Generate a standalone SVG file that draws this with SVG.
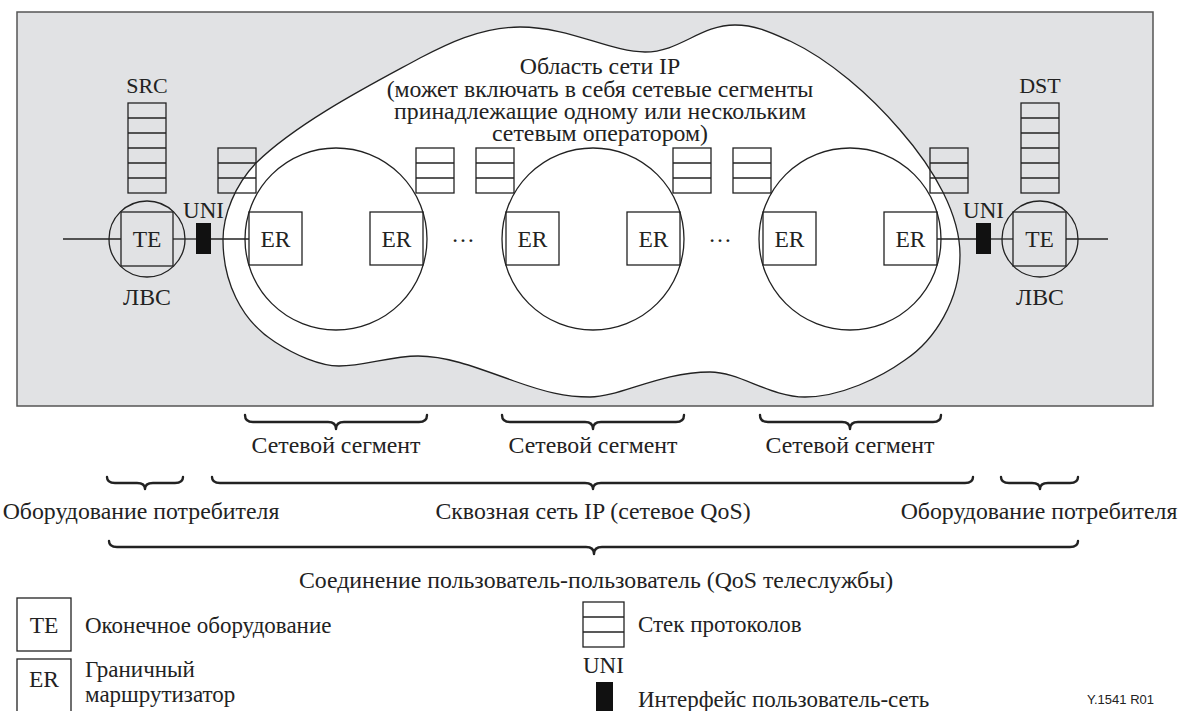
<svg xmlns="http://www.w3.org/2000/svg" xmlns:xlink="http://www.w3.org/1999/xlink" width="1179" height="711" viewBox="0 0 1179 711">
<style>
  .t{font-family:"Liberation Serif","Times New Roman",serif;font-size:23.8px;fill:#222}
  .lat{font-size:22px}
  .box{font-size:23.5px}
  .lg{font-size:23px}
  .m{text-anchor:middle}
  .ln{fill:none;stroke:#222;stroke-width:1.3}
  .br{fill:none;stroke:#222;stroke-width:2.4;stroke-linejoin:round;stroke-linecap:round}
  .uni{fill:#111}
</style>
<defs>
  <g id="stack3" class="ln"><rect x="0" y="0" width="38" height="45"/><line x1="0" y1="15" x2="38" y2="15"/><line x1="0" y1="30" x2="38" y2="30"/></g>
  <g id="stack6" class="ln"><rect x="0" y="0" width="38" height="90"/><line x1="0" y1="15" x2="38" y2="15"/><line x1="0" y1="30" x2="38" y2="30"/><line x1="0" y1="45" x2="38" y2="45"/><line x1="0" y1="60" x2="38" y2="60"/><line x1="0" y1="75" x2="38" y2="75"/></g>
</defs>
<rect id="background" x="17" y="12" width="1136" height="394" fill="#e1e2e4" stroke="#555" stroke-width="1.5"/>
<g id="ip-domain">
  <path d="M223,240 C223,215 235,185 256,163 C300,120 380,80 420,58 C445,45 480,27 520,27 C570,27 610,52 645,52 C680,52 700,25 735,25 C755,25 770,32 790,41 C830,60 870,95 900,130 C935,170 960,215 960,255 C960,300 935,340 905,360 C880,378 840,397 805,397 C770,397 740,372 710,372 C660,372 620,397 590,397 C565,397 545,392 514,381 C470,365 445,356 418,356 C390,356 365,366 339,366 C320,366 295,355 275,342 C240,320 223,280 223,240 Z" fill="#fff" stroke="#222" stroke-width="1.3"/>
  <text class="t m" x="600" y="74">Область сети IP<tspan x="600" y="97">(может включать в себя сетевые сегменты</tspan><tspan x="600" y="119">принадлежащие одному или нескольким</tspan><tspan x="600" y="141">сетевым оператором)</tspan></text>
</g>
<g id="connectors" class="ln">
  <line x1="63" y1="239" x2="121" y2="239"/>
  <line x1="173" y1="239" x2="196" y2="239"/>
  <line x1="211" y1="239" x2="249" y2="239"/>
  <line x1="937" y1="239" x2="976" y2="239"/>
  <line x1="991" y1="239" x2="1013" y2="239"/>
  <line x1="1066" y1="239" x2="1108" y2="239"/>
</g>
<g id="segment1">
  <circle class="ln" cx="336" cy="239" r="91"/>
  <rect class="ln" x="249" y="212" width="53" height="53"/>
  <text class="t box m" x="275.5" y="247">ER</text>
  <rect class="ln" x="370" y="212" width="53" height="53"/>
  <text class="t box m" x="396.5" y="247">ER</text>
</g>
<g id="segment2">
  <circle class="ln" cx="593" cy="239" r="91"/>
  <rect class="ln" x="506" y="212" width="53" height="53"/>
  <text class="t box m" x="532.5" y="247">ER</text>
  <rect class="ln" x="627" y="212" width="53" height="53"/>
  <text class="t box m" x="653.5" y="247">ER</text>
</g>
<g id="segment3">
  <circle class="ln" cx="850" cy="239" r="91"/>
  <rect class="ln" x="763" y="212" width="53" height="53"/>
  <text class="t box m" x="789.5" y="247">ER</text>
  <rect class="ln" x="884" y="212" width="53" height="53"/>
  <text class="t box m" x="910.5" y="247">ER</text>
</g>
<g id="dots">
  <text class="t box m" x="463" y="242">…</text>
  <text class="t box m" x="720" y="242">…</text>
</g>
<g id="stacks">
  <use xlink:href="#stack3" href="#stack3" x="218" y="148"/>
  <use xlink:href="#stack3" href="#stack3" x="416" y="148"/>
  <use xlink:href="#stack3" href="#stack3" x="476" y="148"/>
  <use xlink:href="#stack3" href="#stack3" x="673" y="148"/>
  <use xlink:href="#stack3" href="#stack3" x="733" y="148"/>
  <use xlink:href="#stack3" href="#stack3" x="930" y="148"/>
</g>
<g id="src">
  <text class="t lat m" x="147" y="93">SRC</text>
  <use xlink:href="#stack6" href="#stack6" x="128" y="103"/>
  <circle class="ln" cx="147" cy="239" r="38"/>
  <rect class="ln" x="121" y="212" width="52" height="54"/>
  <text class="t box m" x="147" y="247">TE</text>
  <text class="t m" x="147" y="305">ЛВС</text>
</g>
<g id="uni-left">
  <text class="t lg m" x="203.5" y="218">UNI</text>
  <rect class="uni" x="196" y="223" width="15" height="31"/>
</g>
<g id="uni-right">
  <text class="t lg m" x="983.5" y="218">UNI</text>
  <rect class="uni" x="976" y="223" width="15" height="31"/>
</g>
<g id="dst">
  <text class="t lat m" x="1040" y="93">DST</text>
  <use xlink:href="#stack6" href="#stack6" x="1021" y="103"/>
  <circle class="ln" cx="1040" cy="239" r="38"/>
  <rect class="ln" x="1013" y="212" width="53" height="54"/>
  <text class="t box m" x="1039.5" y="247">TE</text>
  <text class="t m" x="1040" y="305">ЛВС</text>
</g>
<g id="braces" class="br">
  <path d="M245,415 Q245,422 253,422 L328,422 Q336,422 336,429 Q336,422 344,422 L419,422 Q427,422 427,415"/>
  <path d="M502,415 Q502,422 510,422 L585,422 Q593,422 593,429 Q593,422 601,422 L676,422 Q684,422 684,415"/>
  <path d="M760,415 Q760,422 768,422 L842,422 Q850,422 850,429 Q850,422 858,422 L933,422 Q941,422 941,415"/>
  <path d="M107,477 Q107,483 115,483 L137,483 Q145,483 145,489 Q145,483 153,483 L175,483 Q183,483 183,477"/>
  <path d="M212,477 Q212,483 220,483 L585,483 Q593,483 593,489 Q593,483 601,483 L965,483 Q973,483 973,477"/>
  <path d="M1001,477 Q1001,483 1009,483 L1032,483 Q1040,483 1040,489 Q1040,483 1048,483 L1070,483 Q1078,483 1078,477"/>
  <path d="M109,541 Q109,547 117,547 L586,547 Q594,547 594,554 Q594,547 602,547 L1070,547 Q1078,547 1078,541"/>
</g>
<g id="brace-labels">
  <text class="t m" x="336" y="453">Сетевой сегмент</text>
  <text class="t m" x="593" y="453">Сетевой сегмент</text>
  <text class="t m" x="850" y="453">Сетевой сегмент</text>
  <text class="t m" x="141" y="519">Оборудование потребителя</text>
  <text class="t m" x="593" y="519">Сквозная сеть IP (сетевое QoS)</text>
  <text class="t m" x="1039" y="519">Оборудование потребителя</text>
  <text class="t m" x="596" y="588">Соединение пользователь-пользователь (QoS телеслужбы)</text>
</g>
<g id="legend">
  <g id="legend-te">
    <rect class="ln" x="17" y="598" width="54" height="53"/>
    <text class="t box m" x="44" y="633">TE</text>
    <text class="t lg" x="85" y="633">Оконечное оборудование</text>
  </g>
  <g id="legend-er">
    <rect class="ln" x="17" y="659" width="54" height="60"/>
    <text class="t box m" x="44" y="687">ER</text>
    <text class="t lg" x="85" y="677">Граничный</text>
    <text class="t lg" x="85" y="702">маршрутизатор</text>
  </g>
  <g id="legend-stack">
    <g class="ln">
      <rect x="583" y="602" width="41" height="45"/>
      <line x1="583" y1="617" x2="624" y2="617"/>
      <line x1="583" y1="632" x2="624" y2="632"/>
    </g>
    <text class="t lg" x="638" y="632">Стек протоколов</text>
  </g>
  <g id="legend-uni">
    <text class="t lg" x="583" y="673">UNI</text>
    <rect class="uni" x="596" y="682" width="17" height="35"/>
    <text class="t lg" x="638" y="707">Интерфейс пользователь-сеть</text>
  </g>
  <text x="1087" y="704" style="font-family:'Liberation Sans',Arial,sans-serif;font-size:13px;fill:#222">Y.1541  R01</text>
</g>
</svg>
